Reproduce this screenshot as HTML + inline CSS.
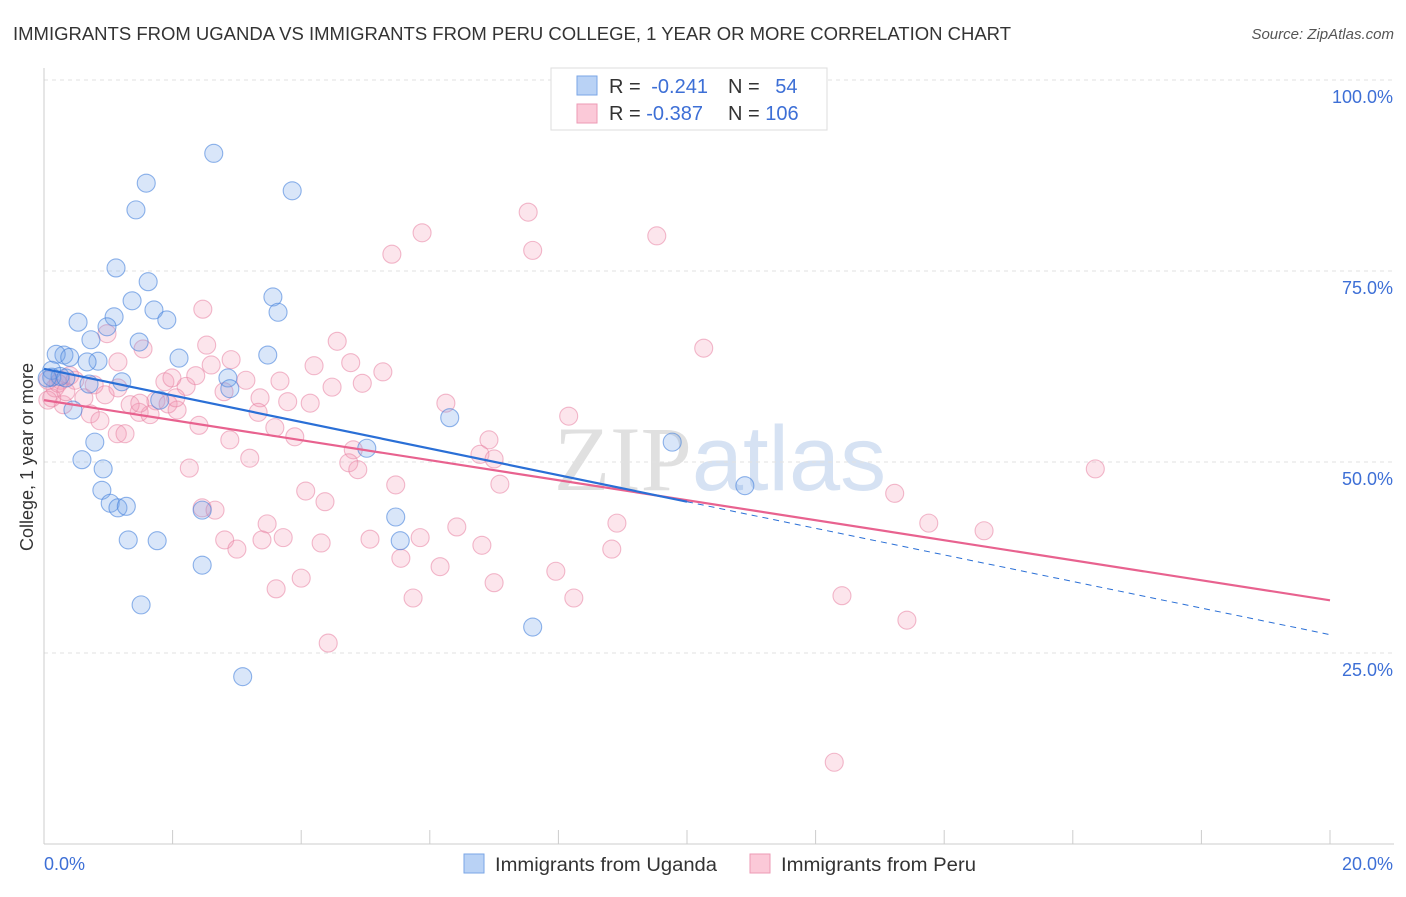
<!DOCTYPE html>
<html><head><meta charset="utf-8"><style>
body{margin:0;background:#fff;font-family:"Liberation Sans",sans-serif;}
svg text{font-family:"Liberation Sans",sans-serif;}
</style></head><body>
<svg id="chart" width="1406" height="892" xmlns="http://www.w3.org/2000/svg">
<text x="13" y="40" font-size="18" fill="#333" textLength="998" lengthAdjust="spacingAndGlyphs">IMMIGRANTS FROM UGANDA VS IMMIGRANTS FROM PERU COLLEGE, 1 YEAR OR MORE CORRELATION CHART</text>
<text x="1394" y="39" font-size="15" fill="#555" text-anchor="end" font-style="italic">Source: ZipAtlas.com</text>
<text x="720" y="490" font-size="92" fill="#e4e8ef" text-anchor="middle"><tspan font-family="Liberation Serif" fill="#e0e0e0">ZIP</tspan><tspan fill="#d6e2f3">atlas</tspan></text>
<g id="grid"></g>
<g id="axes"></g>
<g id="pts"></g>
<g id="trends"></g>
<text transform="translate(33,457) rotate(-90)" font-size="18" fill="#333" text-anchor="middle">College, 1 year or more</text>
<g>
<rect x="551" y="68" width="276" height="62" fill="#fff" stroke="#ddd"/>
<rect x="577" y="76" width="20" height="19" fill="#b9d2f5" stroke="#7aa6e6"/>
<rect x="577" y="104" width="20" height="19" fill="#fbc9d8" stroke="#ec9ab5"/>
<text x="609" y="93" font-size="20" fill="#333">R = <tspan fill="#3d6fd6" dx="5">-0.241</tspan></text>
<text x="728" y="93" font-size="20" fill="#333">N = <tspan fill="#3d6fd6" dx="10">54</tspan></text>
<text x="609" y="120" font-size="20" fill="#333">R = <tspan fill="#3d6fd6">-0.387</tspan></text>
<text x="728" y="120" font-size="20" fill="#333">N = <tspan fill="#3d6fd6">106</tspan></text>
</g>
<g>
<rect x="464" y="854" width="20" height="19" fill="#b9d2f5" stroke="#7aa6e6"/>
<text x="495" y="871" font-size="19" fill="#333" textLength="222" lengthAdjust="spacingAndGlyphs">Immigrants from Uganda</text>
<rect x="750" y="854" width="20" height="19" fill="#fbc9d8" stroke="#ec9ab5"/>
<text x="781" y="871" font-size="19" fill="#333" textLength="195" lengthAdjust="spacingAndGlyphs">Immigrants from Peru</text>
</g>
</svg>
<script>
const yTicks=[25,50,75,100];
const yTickLabels=["25.0%","50.0%","75.0%","100.0%"];
const xTicks=[0,2,4,6,8,10,12,14,16,18,20];
const ugandaX=[2.64,1.59,3.86,1.43,1.12,1.62,1.37,3.56,1.09,1.71,1.91,3.64,0.53,0.98,0.73,1.48,0.31,0.19,0.40,2.10,3.48,0.84,0.67,0.12,0.12,0.25,0.34,1.21,0.70,2.86,2.89,1.80,0.45,6.31,5.02,0.79,0.59,0.92,0.90,1.03,1.15,1.28,5.47,2.46,1.31,1.76,5.54,2.46,1.51,7.60,3.09,9.77,10.90,0.05];
const ugandaY=[90.4,86.5,85.5,83.0,75.4,73.6,71.1,71.6,69.0,69.9,68.6,69.6,68.3,67.7,66.0,65.7,64.0,64.1,63.7,63.6,64.0,63.2,63.1,62.0,61.1,61.2,61.0,60.5,60.2,61.0,59.6,58.1,56.8,55.8,51.8,52.6,50.3,49.1,46.3,44.6,44.0,44.2,42.8,43.7,39.8,39.7,39.7,36.5,31.3,28.4,21.9,52.6,46.9,61.0];
const peruX=[7.53,5.88,9.53,5.41,7.60,2.47,4.56,10.26,0.98,1.54,2.53,1.15,2.91,4.77,4.20,5.27,2.60,1.88,2.21,3.14,3.67,4.48,4.95,2.36,1.99,2.80,3.36,3.79,4.14,3.33,6.25,8.16,1.48,1.74,1.93,2.07,1.65,1.34,0.78,0.62,0.30,0.12,0.26,0.40,0.48,0.72,0.87,1.14,1.26,2.89,3.90,6.92,4.81,6.78,7.00,4.74,4.88,2.26,3.20,7.09,5.47,4.07,4.37,16.35,13.23,13.76,14.62,8.91,6.42,3.47,2.46,2.66,2.81,3.00,3.39,3.72,4.31,5.07,5.85,6.81,8.83,5.55,6.16,7.96,4.00,3.61,5.74,7.00,8.24,12.41,13.42,4.42,12.29,0.17,0.06,0.22,0.34,0.95,1.15,1.49,2.05,2.41,3.59,0.06];
const peruY=[82.7,80.0,79.6,77.2,77.7,70.0,65.8,64.9,66.8,64.8,65.3,63.1,63.4,63.0,62.6,61.8,62.7,60.5,59.9,60.7,60.6,59.8,60.3,61.3,61.0,59.2,58.4,57.9,57.7,56.5,57.7,56.0,56.5,58.0,57.6,56.8,56.2,57.5,60.1,58.4,57.5,58.4,60.7,61.3,60.7,56.3,55.4,53.7,53.7,52.9,53.3,52.9,51.6,51.0,50.4,49.9,49.0,49.2,50.5,47.1,47.0,46.2,44.8,49.1,45.9,42.0,41.0,42.0,41.5,41.9,44.0,43.7,39.8,38.6,39.8,40.1,39.4,39.9,40.1,39.1,38.6,37.4,36.3,35.7,34.8,33.4,32.2,34.2,32.2,32.5,29.3,26.3,10.7,59.7,58.1,60.3,59.2,58.8,59.7,57.7,58.4,54.8,54.5,60.7];
const ugandaTrend=[62.2,27.4];
const peruTrend=[58.1,31.9];
const ugandaSolidEnd=[10];
const NS="http://www.w3.org/2000/svg";
const X=v=>44+v/20*1286, Y=v=>844-v/100*764;
function mk(tag,attrs,parent){const e=document.createElementNS(NS,tag);for(const k in attrs)e.setAttribute(k,attrs[k]);parent.appendChild(e);return e;}
const grid=document.getElementById('grid'),axes=document.getElementById('axes'),pts=document.getElementById('pts'),tr=document.getElementById('trends');
yTicks.forEach((t,i)=>{
 const l=mk('line',{x1:44,x2:1394,y1:Y(t),y2:Y(t),stroke:'#e2e2e2','stroke-dasharray':'4,4'},grid);
 
 
 const tx=mk('text',{x:1393,y:Y(t)+23,'font-size':18,fill:'#3d6fd6','text-anchor':'end'},axes);
 tx.textContent=yTickLabels[i];
 
 
});
const ax=mk('line',{x1:44,x2:44,y1:68,y2:844,stroke:'#ccc'},axes);


const bx=mk('line',{x1:44,x2:1394,y1:844,y2:844,stroke:'#ccc'},axes);


xTicks.forEach(t=>{
 const l=mk('line',{x1:X(t),x2:X(t),y1:830,y2:844,stroke:'#ccc'},axes);
 
 
});
const x0=mk('text',{x:44,y:870,'font-size':18,fill:'#3d6fd6'},axes);x0.textContent="0.0%";


const x1=mk('text',{x:1393,y:870,'font-size':18,fill:'#3d6fd6','text-anchor':'end'},axes);x1.textContent="20.0%";


peruX.forEach((v,i)=>{
 const c=mk('circle',{cx:X(v),cy:Y(peruY[i]),r:9,fill:'rgba(244,150,180,0.25)',stroke:'rgba(232,130,162,0.55)','stroke-width':1.1},pts);
 
 
});
ugandaX.forEach((v,i)=>{
 const c=mk('circle',{cx:X(v),cy:Y(ugandaY[i]),r:9,fill:'rgba(120,165,235,0.28)',stroke:'rgba(70,130,220,0.6)','stroke-width':1.1},pts);
 
 
});
const ty=(t,x)=>t[0]+(t[1]-t[0])*x/20;
const p1=mk('line',{x1:X(0),y1:Y(ty(peruTrend,0)),x2:X(20),y2:Y(ty(peruTrend,20)),stroke:'#e8628f','stroke-width':2.2},tr);


const e=ugandaSolidEnd[0];
const u1=mk('line',{x1:X(0),y1:Y(ty(ugandaTrend,0)),x2:X(e),y2:Y(ty(ugandaTrend,e)),stroke:'#2a6fd6','stroke-width':2.2},tr);


const u2=mk('line',{x1:X(e),y1:Y(ty(ugandaTrend,e)),x2:X(20),y2:Y(ty(ugandaTrend,20)),stroke:'#2a6fd6','stroke-width':1,'stroke-dasharray':'6,5'},tr);


</script>
</body></html>
